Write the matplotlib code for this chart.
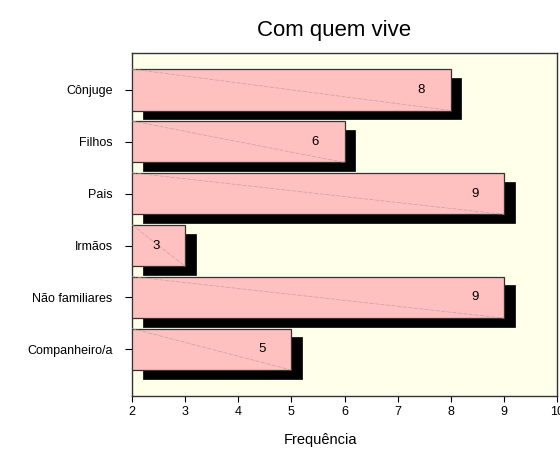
import matplotlib.pyplot as plt

plt.rcParams["font.family"] = ["Liberation Sans", "DejaVu Sans"]

categorias = ["Companheiro/a", "Não familiares", "Irmãos", "Pais", "Filhos", "Cônjuge"]
frequencias = [5, 9, 3, 9, 6, 8]

fig = plt.figure(figsize=(5.6, 4.62), dpi=100)
ax = fig.add_axes([0.2357, 0.1429, 0.759, 0.7424])
ax.set_facecolor("#FFFFEA")

pos = list(range(len(categorias)))
h = 0.8
# sombra
ax.barh([p - 0.17 for p in pos], [f - 2 for f in frequencias], left=2.2, height=h,
        color="black", edgecolor="black", linewidth=0.5, zorder=2)
ax.barh(pos, [f - 2 for f in frequencias], left=2, height=h,
        color="#FFC0C0", edgecolor="#333333", linewidth=0.9, zorder=3)

for p, f in zip(pos, frequencias):
    ax.plot([2, f], [p + h / 2, p - h / 2], color="#C8A0A0", linewidth=0.5,
            linestyle=(0, (6, 2)), zorder=4)
    ax.text(f - 0.55, p, str(f), ha="center", va="center", fontsize=9.5, zorder=5)

ax.set_xlim(2, 10)
ax.set_ylim(-0.9, 5.71)
ax.set_yticks(pos)
ax.set_yticklabels(categorias, fontsize=9)
ax.set_xticks(range(2, 11))
ax.tick_params(axis="x", labelsize=9, length=4, direction="out")
ax.tick_params(axis="y", length=5, direction="out", pad=9)
for s in ax.spines.values():
    s.set_color("#333333")
    s.set_linewidth(1)

fig.text(0.596, 0.935, "Com quem vive", ha="center", va="center", fontsize=16)
fig.text(0.572, 0.047, "Frequência", ha="center", va="center", fontsize=10.5)

fig.savefig("out.png", dpi=100)
